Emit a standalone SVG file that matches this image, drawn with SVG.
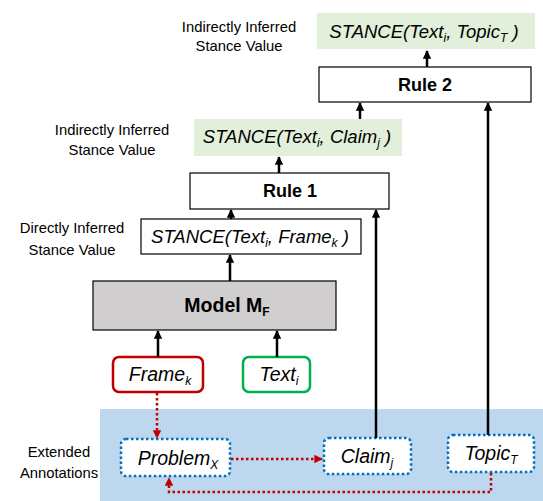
<svg xmlns="http://www.w3.org/2000/svg" width="543" height="501" viewBox="0 0 543 501">
<defs>
<marker id="ab" viewBox="0 0 10 10" refX="9" refY="5" markerWidth="3.4" markerHeight="3.4" orient="auto" markerUnits="strokeWidth"><path d="M0,0 L10,5 L0,10 z" fill="#000"/></marker>
<marker id="ar" viewBox="0 0 10 10" refX="9" refY="5" markerWidth="3.4" markerHeight="3.4" orient="auto" markerUnits="strokeWidth"><path d="M0,0 L10,5 L0,10 z" fill="#c00000"/></marker>
<style>
.lbl{font-family:"Liberation Sans",Arial,sans-serif;font-size:14.8px;fill:#000;text-anchor:middle}
.it{font-family:"Liberation Sans",Arial,sans-serif;font-style:italic;font-size:18.5px;fill:#000;text-anchor:middle}
.nd{font-size:19.5px}
.bd{font-family:"Liberation Sans",Arial,sans-serif;font-weight:bold;font-size:18px;fill:#000;text-anchor:middle}
.sub{font-size:12px}
.box{fill:#fff;stroke:#000;stroke-width:1.2}
.grn{fill:#e2efda;stroke:none}
.dot{fill:#fff;stroke:#0070c0;stroke-width:2.5;stroke-dasharray:2.5 2.5}
.blk{stroke:#000;stroke-width:2.5;fill:none}
.red{stroke:#c00000;stroke-width:2.5;stroke-dasharray:2.5 2.5;fill:none}
</style>
</defs>
<rect x="100" y="409" width="443" height="92" fill="#bdd7ee"/>
<g id="labels">
<text class="lbl" x="239" y="32">Indirectly Inferred</text>
<text class="lbl" x="239" y="51">Stance Value</text>
<text class="lbl" x="112" y="135">Indirectly Inferred</text>
<text class="lbl" x="112" y="155">Stance Value</text>
<text class="lbl" x="72" y="233">Directly Inferred</text>
<text class="lbl" x="72" y="255">Stance Value</text>
<text class="lbl" x="59" y="457">Extended</text>
<text class="lbl" x="59" y="478">Annotations</text>
</g>
<g id="stance-topic">
<rect class="grn" x="317" y="13" width="218" height="36"/>
<text class="it" x="424" y="38">STANCE(Text<tspan class="sub" dy="4">i</tspan><tspan dy="-4">, Topic</tspan><tspan class="sub" dy="4">T</tspan><tspan dy="-4"> )</tspan></text>
</g>
<g id="rule2">
<rect class="box" x="319" y="67" width="212" height="35"/>
<text class="bd" x="425" y="91">Rule 2</text>
</g>
<g id="stance-claim">
<rect class="grn" x="194" y="119" width="208" height="37"/>
<text class="it" x="297" y="143">STANCE(Text<tspan class="sub" dy="4">i</tspan><tspan dy="-4">, Claim</tspan><tspan class="sub" dy="4">j</tspan><tspan dy="-4"> )</tspan></text>
</g>
<g id="rule1">
<rect class="box" x="190" y="173" width="199" height="36"/>
<text class="bd" x="290" y="197">Rule 1</text>
</g>
<g id="stance-frame">
<rect class="box" x="141" y="219" width="220" height="35"/>
<text class="it" x="250" y="243">STANCE(Text<tspan class="sub" dy="4">i</tspan><tspan dy="-4">, Frame</tspan><tspan class="sub" dy="4">k</tspan><tspan dy="-4"> )</tspan></text>
</g>
<g id="model">
<rect x="93" y="281" width="243" height="49" fill="#d0cece" stroke="#000" stroke-width="1.2"/>
<text class="bd" x="227" y="312" style="font-size:19.5px">Model M<tspan class="sub" dy="4">F</tspan></text>
</g>
<g id="frame">
<rect x="113" y="357" width="90" height="35" rx="6" fill="#fff" stroke="#c00000" stroke-width="2.5"/>
<text class="it nd" x="160" y="381">Frame<tspan class="sub" dy="4">k</tspan></text>
</g>
<g id="text">
<rect x="243" y="357" width="67" height="35" rx="6" fill="#fff" stroke="#00b050" stroke-width="2.5"/>
<text class="it nd" x="279" y="381">Text<tspan class="sub" dy="4">i</tspan></text>
</g>
<g id="problem">
<rect class="dot" x="121" y="439" width="109" height="37" rx="5"/>
<text class="it nd" x="178" y="465">Problem<tspan class="sub" dy="4">X</tspan></text>
</g>
<g id="claim">
<rect class="dot" x="324" y="438" width="87" height="36" rx="5"/>
<text class="it nd" x="367" y="463">Claim<tspan class="sub" dy="4">j</tspan></text>
</g>
<g id="topic">
<rect class="dot" x="448" y="435" width="86" height="37" rx="5"/>
<text class="it nd" x="491" y="460">Topic<tspan class="sub" dy="4">T</tspan></text>
</g>
<g id="connectors">
<line class="blk" x1="427" y1="67" x2="427" y2="51" marker-end="url(#ab)"/>
<line class="blk" x1="360" y1="119" x2="360" y2="103" marker-end="url(#ab)"/>
<line class="blk" x1="488" y1="435" x2="488" y2="103" marker-end="url(#ab)"/>
<line class="blk" x1="279" y1="173" x2="279" y2="157" marker-end="url(#ab)"/>
<line class="blk" x1="231" y1="219" x2="231" y2="210" marker-end="url(#ab)"/>
<line class="blk" x1="376" y1="438" x2="376" y2="210" marker-end="url(#ab)"/>
<line class="blk" x1="230" y1="281" x2="230" y2="255" marker-end="url(#ab)"/>
<line class="blk" x1="158" y1="357" x2="158" y2="331" marker-end="url(#ab)"/>
<line class="blk" x1="277" y1="357" x2="277" y2="331" marker-end="url(#ab)"/>
<line class="red" x1="157" y1="393" x2="157" y2="438" marker-end="url(#ar)"/>
<line class="red" x1="231" y1="459" x2="322" y2="459" marker-end="url(#ar)"/>
<polyline class="red" points="491,473 491,492 169,492 169,478" marker-end="url(#ar)"/>
</g>
</svg>
